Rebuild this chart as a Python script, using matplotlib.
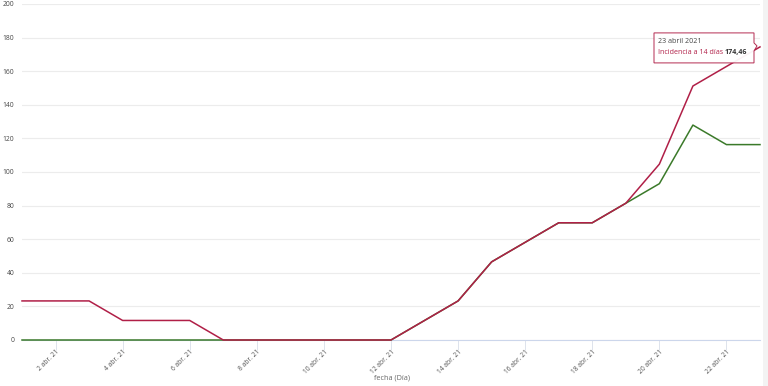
import matplotlib
matplotlib.use("Agg")
import matplotlib.pyplot as plt
import matplotlib.dates as mdates
import matplotlib.patches as mpatches
from matplotlib.transforms import IdentityTransform
import pandas as pd

plt.rcParams["font.family"] = ["Open Sans", "DejaVu Sans"]

dates = pd.date_range("2021-04-01", "2021-04-23", freq="D")
incid_14 = [23.26, 23.26, 23.26, 11.63, 11.63, 11.63, 0, 0, 0, 0, 0, 0,
            11.63, 23.26, 46.52, 58.15, 69.78, 69.78, 81.41, 104.67, 151.19, 162.82, 174.46]
incid_7 = [0, 0, 0, 0, 0, 0, 0, 0, 0, 0, 0, 0,
           11.63, 23.26, 46.52, 58.15, 69.78, 69.78, 81.41, 93.05, 127.94, 116.31, 116.31]
tick_dates = pd.date_range("2021-04-02", "2021-04-22", freq="2D")
tick_labels = ["2 abr. 21", "4 abr. 21", "6 abr. 21", "8 abr. 21", "10 abr. 21", "12 abr. 21",
               "14 abr. 21", "16 abr. 21", "18 abr. 21", "20 abr. 21", "22 abr. 21"]
y_ticks = [0, 20, 40, 60, 80, 100, 120, 140, 160, 180, 200]
tooltip_date = "23 abril 2021"
tooltip_series = "Incidencia a 14 días"
tooltip_value = "174,46"

RED = "#b01f47"
GREEN = "#3b7a2a"
W, H = 768, 386
fig = plt.figure(figsize=(W / 100, H / 100), dpi=100)
fig.patch.set_facecolor("white")
fig.patches.append(mpatches.Rectangle((763 / W, 0), 5 / W, 1, transform=fig.transFigure,
                                      facecolor="#f3f3f3", edgecolor="none"))

ax = fig.add_axes([22 / W, 1 - 340 / H, (760 - 22) / W, (340 - 4) / H])
ax.set_facecolor("white")
ax.plot(dates, incid_7, color=GREEN, lw=1.1, solid_joinstyle="round", zorder=5, clip_on=False)
ax.plot(dates, incid_14, color=RED, lw=1.1, solid_joinstyle="round", zorder=6, clip_on=False)

ax.set_xlim(dates[0], dates[-1])
ax.set_ylim(0, 200)
ax.set_yticks(y_ticks)
ax.set_yticklabels([str(v) for v in y_ticks], fontsize=4.9, color="#444444")
ax.set_xticks(tick_dates)
ax.set_xticklabels(tick_labels, fontsize=4.8, color="#555555", rotation=45,
                   ha="right", va="top", rotation_mode="anchor")
ax.tick_params(axis="y", length=0, pad=5.5)
ax.tick_params(axis="x", length=7.5, width=0.6, color="#d8dee9", pad=-1.5, direction="out")
ax.grid(axis="y", color="#ececec", lw=0.8)
ax.set_axisbelow(True)
for s in ["top", "right", "left"]:
    ax.spines[s].set_visible(False)
ax.spines["bottom"].set_color("#ccd6eb")
ax.spines["bottom"].set_linewidth(0.8)
ax.spines["bottom"].set_zorder(1)
ax.set_xlabel("fecha (Día)", fontsize=5.2, color="#666666")
ax.xaxis.set_label_coords((392 - 22) / (760 - 22), -(378 - 340) / (340 - 4))
ax.xaxis.label.set_va("center")

# tooltip anchored at last point
fig.canvas.draw()
px, py = ax.transData.transform((mdates.date2num(dates[-1]), incid_14[-1]))
box_l, box_r = px - 106, px - 6
box_t, box_b = py + 14, py - 16
tip = mpatches.Polygon([(box_l, box_b), (box_r, box_b), (box_r, py - 4), (px - 3, py + 1),
                        (box_r, py + 4), (box_r, box_t), (box_l, box_t)], closed=True,
                       transform=IdentityTransform(), facecolor="white", edgecolor=RED,
                       lw=0.7, zorder=10, alpha=0.95)
fig.patches.append(tip)
fig.text(box_l + 4, py + 5, tooltip_date, transform=IdentityTransform(), fontsize=5.1,
         color="#444444", va="center", ha="left", zorder=11)
t1 = fig.text(box_l + 4, py - 6, tooltip_series + " ", transform=IdentityTransform(),
              fontsize=5.1, color=RED, va="center", ha="left", zorder=11)
fig.canvas.draw()
bb = t1.get_window_extent()
fig.text(bb.x1, py - 6, tooltip_value, transform=IdentityTransform(), fontsize=5.1,
         color="#333333", fontweight="bold", va="center", ha="left", zorder=11)

fig.savefig("out.png", dpi=100)
